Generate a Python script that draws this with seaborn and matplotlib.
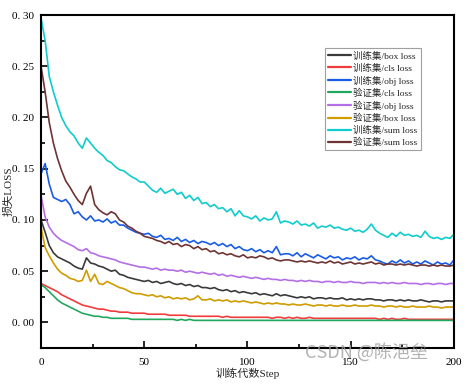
import numpy as np
import pandas as pd
import matplotlib
matplotlib.use("Agg")
import matplotlib.pyplot as plt
from matplotlib.ticker import MultipleLocator, FuncFormatter
import seaborn as sns

steps = list(range(0, 201, 2))

train_box = [0.100, 0.088, 0.075, 0.068, 0.064, 0.062, 0.060, 0.058, 0.055, 0.053,
             0.052, 0.063, 0.058, 0.057, 0.055, 0.054, 0.052, 0.050, 0.051, 0.047,
             0.046, 0.044, 0.043, 0.042, 0.041, 0.040, 0.041, 0.039, 0.040, 0.038,
             0.039, 0.040, 0.038, 0.037, 0.038, 0.036, 0.037, 0.035, 0.036, 0.034,
             0.034, 0.033, 0.034, 0.032, 0.031, 0.032, 0.030, 0.031, 0.029, 0.030,
             0.029, 0.028, 0.029, 0.027, 0.028, 0.027, 0.026, 0.028, 0.026, 0.027,
             0.026, 0.025, 0.024, 0.025, 0.024, 0.025, 0.023, 0.024, 0.024, 0.023,
             0.024, 0.023, 0.023, 0.024, 0.022, 0.023, 0.022, 0.023, 0.022, 0.023,
             0.023, 0.022, 0.022, 0.021, 0.022, 0.022, 0.021, 0.022, 0.021, 0.022,
             0.021, 0.021, 0.022, 0.021, 0.020, 0.021, 0.021, 0.020, 0.021, 0.021,
             0.021]
train_cls = [0.038, 0.036, 0.034, 0.032, 0.030, 0.027, 0.025, 0.023, 0.021, 0.019,
             0.017, 0.016, 0.015, 0.014, 0.013, 0.013, 0.012, 0.011, 0.011, 0.010,
             0.010, 0.010, 0.009, 0.009, 0.009, 0.009, 0.008, 0.008, 0.008, 0.008,
             0.008, 0.007, 0.007, 0.007, 0.007, 0.007, 0.006, 0.006, 0.006, 0.006,
             0.006, 0.006, 0.006, 0.006, 0.005, 0.006, 0.005, 0.005, 0.005, 0.005,
             0.005, 0.005, 0.005, 0.005, 0.005, 0.005, 0.004, 0.005, 0.005, 0.004,
             0.005, 0.004, 0.005, 0.004, 0.004, 0.005, 0.004, 0.004, 0.004, 0.004,
             0.004, 0.004, 0.004, 0.004, 0.004, 0.004, 0.004, 0.004, 0.004, 0.004,
             0.004, 0.004, 0.003, 0.004, 0.003, 0.004, 0.003, 0.003, 0.004, 0.003,
             0.003, 0.003, 0.003, 0.003, 0.003, 0.003, 0.003, 0.003, 0.003, 0.003,
             0.003]
train_obj = [0.145, 0.155, 0.135, 0.122, 0.120, 0.118, 0.120, 0.115, 0.106, 0.108,
             0.103, 0.100, 0.104, 0.099, 0.100, 0.098, 0.101, 0.097, 0.099, 0.095,
             0.095, 0.092, 0.090, 0.088, 0.087, 0.086, 0.087, 0.084, 0.083, 0.085,
             0.081, 0.082, 0.080, 0.083, 0.079, 0.081, 0.078, 0.080, 0.077, 0.079,
             0.078, 0.076, 0.078, 0.075, 0.077, 0.074, 0.076, 0.072, 0.074, 0.071,
             0.070, 0.072, 0.069, 0.071, 0.068, 0.070, 0.068, 0.074, 0.066, 0.067,
             0.067, 0.065, 0.068, 0.064, 0.067, 0.065, 0.063, 0.066, 0.064, 0.062,
             0.065, 0.063, 0.064, 0.061, 0.063, 0.062, 0.064, 0.061, 0.063, 0.062,
             0.065, 0.061, 0.060, 0.058, 0.057, 0.060, 0.058, 0.061, 0.058, 0.060,
             0.057, 0.059, 0.057, 0.060, 0.058, 0.056, 0.059, 0.057, 0.058, 0.056,
             0.061]
val_cls = [0.037, 0.034, 0.030, 0.026, 0.022, 0.019, 0.017, 0.015, 0.013, 0.011,
           0.009, 0.008, 0.007, 0.006, 0.006, 0.005, 0.005, 0.004, 0.004, 0.004,
           0.004, 0.004, 0.003, 0.003, 0.003, 0.003, 0.003, 0.003, 0.003, 0.003,
           0.003, 0.003, 0.003, 0.002, 0.003, 0.002, 0.003, 0.002, 0.002, 0.002,
           0.002, 0.002, 0.002, 0.002, 0.002, 0.002, 0.002, 0.002, 0.002, 0.002,
           0.002, 0.002, 0.002, 0.002, 0.002, 0.002, 0.002, 0.002, 0.002, 0.002,
           0.002, 0.002, 0.002, 0.002, 0.002, 0.002, 0.002, 0.002, 0.002, 0.002,
           0.002, 0.002, 0.002, 0.002, 0.002, 0.002, 0.002, 0.002, 0.002, 0.002,
           0.002, 0.002, 0.002, 0.002, 0.002, 0.002, 0.002, 0.002, 0.002, 0.002,
           0.002, 0.002, 0.002, 0.002, 0.002, 0.002, 0.002, 0.002, 0.002, 0.002,
           0.002]
val_obj = [0.124, 0.103, 0.093, 0.087, 0.083, 0.080, 0.078, 0.076, 0.074, 0.071,
           0.070, 0.072, 0.068, 0.067, 0.065, 0.064, 0.063, 0.062, 0.061, 0.059,
           0.058, 0.057, 0.056, 0.055, 0.054, 0.054, 0.053, 0.052, 0.053, 0.051,
           0.052, 0.051, 0.051, 0.050, 0.051, 0.049, 0.050, 0.049, 0.048, 0.049,
           0.048, 0.047, 0.048, 0.046, 0.047, 0.045, 0.046, 0.045, 0.044, 0.045,
           0.044, 0.043, 0.044, 0.043, 0.042, 0.043, 0.042, 0.042, 0.041, 0.042,
           0.041, 0.041, 0.040, 0.041, 0.040, 0.041, 0.040, 0.040, 0.039, 0.040,
           0.040, 0.039, 0.040, 0.039, 0.039, 0.040, 0.039, 0.039, 0.038, 0.039,
           0.039, 0.039, 0.038, 0.039, 0.038, 0.039, 0.038, 0.038, 0.039, 0.038,
           0.038, 0.038, 0.037, 0.038, 0.038, 0.037, 0.038, 0.038, 0.037, 0.038,
           0.038]
val_box = [0.093, 0.073, 0.065, 0.058, 0.052, 0.048, 0.046, 0.043, 0.042, 0.040,
           0.041, 0.051, 0.040, 0.047, 0.038, 0.037, 0.040, 0.038, 0.036, 0.034,
           0.033, 0.031, 0.029, 0.028, 0.028, 0.027, 0.026, 0.027, 0.025, 0.026,
           0.024, 0.025, 0.023, 0.024, 0.023, 0.024, 0.022, 0.023, 0.026, 0.022,
           0.022, 0.023, 0.021, 0.022, 0.021, 0.022, 0.020, 0.021, 0.020, 0.021,
           0.020, 0.019, 0.020, 0.019, 0.018, 0.019, 0.018, 0.019, 0.018, 0.018,
           0.017, 0.018, 0.017, 0.017, 0.018, 0.017, 0.016, 0.017, 0.017, 0.016,
           0.017, 0.016, 0.016, 0.017, 0.016, 0.016, 0.017, 0.016, 0.016, 0.016,
           0.017, 0.016, 0.016, 0.015, 0.016, 0.016, 0.015, 0.016, 0.015, 0.015,
           0.016, 0.015, 0.015, 0.015, 0.016, 0.015, 0.015, 0.014, 0.015, 0.015,
           0.015]
train_sum = [0.297, 0.275, 0.240, 0.225, 0.212, 0.200, 0.192, 0.186, 0.182, 0.175,
             0.170, 0.180, 0.175, 0.170, 0.166, 0.163, 0.158, 0.156, 0.152, 0.149,
             0.148, 0.145, 0.142, 0.140, 0.137, 0.137, 0.133, 0.129, 0.127, 0.131,
             0.126, 0.128, 0.130, 0.125, 0.127, 0.121, 0.124, 0.119, 0.122, 0.116,
             0.117, 0.113, 0.115, 0.111, 0.112, 0.108, 0.111, 0.104, 0.109, 0.104,
             0.103, 0.101, 0.104, 0.099, 0.102, 0.100, 0.101, 0.108, 0.097, 0.099,
             0.098, 0.096, 0.099, 0.095, 0.096, 0.094, 0.097, 0.092, 0.094, 0.093,
             0.095, 0.092, 0.093, 0.091, 0.090, 0.092, 0.089, 0.090, 0.088, 0.091,
             0.096, 0.090, 0.087, 0.085, 0.083, 0.087, 0.084, 0.088, 0.085, 0.086,
             0.084, 0.085, 0.083, 0.089, 0.084, 0.082, 0.083, 0.081, 0.083, 0.082,
             0.086]
val_sum = [0.250, 0.225, 0.195, 0.175, 0.160, 0.148, 0.138, 0.132, 0.125, 0.119,
           0.115, 0.126, 0.133, 0.115, 0.110, 0.107, 0.105, 0.108, 0.106, 0.100,
           0.098, 0.094, 0.092, 0.089, 0.087, 0.084, 0.083, 0.082, 0.080, 0.079,
           0.077, 0.079, 0.076, 0.077, 0.074, 0.076, 0.075, 0.072, 0.074, 0.071,
           0.072, 0.069, 0.070, 0.067, 0.068, 0.066, 0.067, 0.065, 0.064, 0.066,
           0.063, 0.064, 0.063, 0.065, 0.064, 0.062, 0.063, 0.061, 0.060, 0.061,
           0.061, 0.060, 0.059, 0.060, 0.059, 0.060, 0.059, 0.058, 0.059, 0.058,
           0.060, 0.058, 0.059, 0.057, 0.058, 0.059, 0.057, 0.058, 0.057, 0.058,
           0.059, 0.057, 0.058, 0.056, 0.057, 0.057, 0.056, 0.057, 0.056, 0.057,
           0.056, 0.055, 0.056, 0.056, 0.055, 0.056, 0.055, 0.056, 0.055, 0.055,
           0.056]

labels = ["训练集/box loss", "训练集/cls loss", "训练集/obj loss", "验证集/cls loss",
          "验证集/obj loss", "验证集/box loss", "训练集/sum loss", "验证集/sum loss"]
series = [train_box, train_cls, train_obj, val_cls, val_obj, val_box, train_sum, val_sum]
colors = ["#3a3a3a", "#f03c3c", "#1a5ce6", "#22a85c", "#b46ee6", "#d09c00", "#10cccc", "#6e3434"]

df = pd.concat([pd.DataFrame({"step": steps, "loss": s, "name": n}) for n, s in zip(labels, series)])

sns.set_style("ticks")
plt.rcParams['font.family'] = ['Liberation Serif', 'Noto Sans CJK SC']

fig = plt.figure(figsize=(4.73, 3.85), dpi=100)
ax = fig.add_axes([0.0867, 0.096, 0.873, 0.865])
sns.lineplot(data=df, x="step", y="loss", hue="name", hue_order=labels,
             palette=dict(zip(labels, colors)), linewidth=1.2, ax=ax)

ax.set_xlim(0, 200)
ax.set_ylim(-0.025, 0.30)
ax.xaxis.set_major_locator(MultipleLocator(50))
ax.xaxis.set_minor_locator(MultipleLocator(25))
ax.yaxis.set_major_locator(MultipleLocator(0.05))
ax.yaxis.set_minor_locator(MultipleLocator(0.025))
ax.yaxis.set_major_formatter(FuncFormatter(lambda v, p: f"{v:.2f}".replace(".", ". ")))
ax.tick_params(which="both", direction="in", top=False, right=False, width=1.2, colors="black", labelsize=8)
ax.tick_params(which="major", length=5)
ax.tick_params(which="minor", length=3)
ax.tick_params(axis="x", pad=7)
ax.tick_params(axis="y", pad=5)
for sp in ax.spines.values():
    sp.set_linewidth(1.5)
    sp.set_color("black")

ax.set_xlabel("训练代数Step", fontsize=8, labelpad=1)
ax.set_ylabel("损失LOSS", fontsize=8)
ax.yaxis.set_label_coords(-0.068, 0.47)

leg = ax.legend(loc="upper left", bbox_to_anchor=(0.688, 0.9), fontsize=6.8,
                frameon=True, fancybox=False, edgecolor="#888888", labelspacing=0.3,
                handlelength=2.4, handletextpad=0.25, borderpad=0.35, borderaxespad=0)
leg.get_frame().set_linewidth(0.8)
for line in leg.get_lines():
    line.set_linewidth(1.6)

fig.text(0.905, 0.06, "CSDN @陈浥垒", ha="right", va="bottom", fontsize=13,
         color="#a0a0a0", alpha=0.8, family=["Noto Sans CJK SC", "DejaVu Sans"])

fig.savefig("out.png", dpi=100)
